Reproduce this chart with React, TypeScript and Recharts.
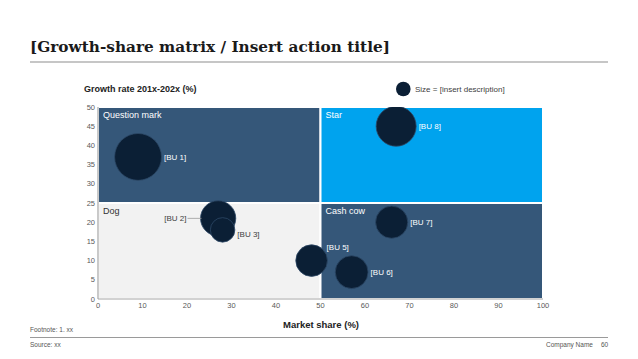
import React from "react";
import {
  ScatterChart,
  Scatter,
  XAxis,
  YAxis,
  ZAxis,
  ReferenceArea,
} from "recharts";

const units = ["[BU 1]", "[BU 2]", "[BU 3]", "[BU 5]", "[BU 6]", "[BU 7]", "[BU 8]"];
const marketShare = [9, 27, 28, 48, 57, 66, 67];
const growthRate = [37, 21, 18, 10, 7, 20, 45];
const bubbleWeight = [55, 31, 15, 25, 27, 26, 40];

const xTicks = [0, 10, 20, 30, 40, 50, 60, 70, 80, 90, 100];
const yTicks = [0, 5, 10, 15, 20, 25, 30, 35, 40, 45, 50];

const quadrantNames = ["Question mark", "Star", "Dog", "Cash cow"];
const shareSplit = 50;
const growthSplit = 25;

const NAVY = "#355779";
const QUADRANT_FILLS = [NAVY, "#00a3ee", "#f2f2f2", NAVY];
const BUBBLE = "#0b1f35";
const SANS = "'Liberation Sans', Arial, sans-serif";

// where each bubble's label sits relative to the bubble (default: right)
const LABEL_SIDE: Record<string, "left" | "above" | "below-right"> = {
  "[BU 2]": "left",
  "[BU 3]": "below-right",
  "[BU 5]": "above",
};

const bubbles = units.map((name, i) => ({
  name,
  share: marketShare[i],
  growth: growthRate[i],
  weight: bubbleWeight[i],
}));

const quadrants = quadrantNames.map((name, i) => ({
  name,
  x1: i % 2 === 0 ? 0 : shareSplit,
  x2: i % 2 === 0 ? shareSplit : 100,
  y1: i < 2 ? growthSplit : 0,
  y2: i < 2 ? 50 : growthSplit,
  fill: QUADRANT_FILLS[i],
}));

const Bubble = (props: any) => {
  const { cx, cy, payload } = props;
  const r = props.size ? Math.sqrt(props.size / Math.PI) : props.width / 2;
  const side = LABEL_SIDE[payload.name];
  // the "above" label reaches over into the cash cow box, so it stays white
  const onLight =
    payload.share < shareSplit && payload.growth < growthSplit && side !== "above";
  const color = onLight ? "#404040" : "#ffffff";

  let label;
  if (side === "left") {
    const end = cx - r - 14;
    label = (
      <g>
        <line x1={end + 1} y1={cy} x2={cx - r + 1} y2={cy} stroke="#9a9a9a" strokeWidth={0.8} />
        <text x={end} y={cy} dy="0.35em" textAnchor="end" fontSize={8} fill={color} fontFamily={SANS}>
          {payload.name}
        </text>
      </g>
    );
  } else if (side === "above") {
    label = (
      <text x={cx + 15} y={cy - 13.5} dy="0.35em" fontSize={8} fill={color} fontFamily={SANS}>
        {payload.name}
      </text>
    );
  } else {
    const dy = side === "below-right" ? 4 : 0;
    label = (
      <text x={cx + r + 2.5} y={cy + dy} dy="0.35em" fontSize={8} fill={color} fontFamily={SANS}>
        {payload.name}
      </text>
    );
  }

  return (
    <g>
      <circle cx={cx} cy={cy} r={r} fill={BUBBLE} stroke="#2c4866" strokeWidth={0.8} />
      {label}
    </g>
  );
};

const App = () => {
  return (
    <div style={{ position: "absolute", left: 0, top: 0, width: 638, height: 359, background: "#fff" }}>
      <ScatterChart width={638} height={359} margin={{ top: 107, right: 95, bottom: 40, left: 78 }}>
        {quadrants.map((q) => (
          <ReferenceArea
            key={q.name}
            x1={q.x1}
            x2={q.x2}
            y1={q.y1}
            y2={q.y2}
            fill={q.fill}
            fillOpacity={1}
            stroke="#ffffff"
            strokeWidth={2}
            label={{
              value: q.name,
              position: "insideTopLeft",
              offset: 5,
              fill: q.name === "Dog" ? "#333333" : "#ffffff",
              fontSize: 9,
              fontFamily: SANS,
            }}
          />
        ))}
        <XAxis
          type="number"
          dataKey="share"
          domain={[0, 100]}
          ticks={xTicks}
          height={20}
          tickSize={0}
          tickMargin={4}
          axisLine={{ stroke: "#a6a6a6", strokeWidth: 1.2 }}
          tick={{ fontSize: 7.5, fill: "#595959", fontFamily: SANS }}
          allowDataOverflow
        />
        <YAxis
          type="number"
          dataKey="growth"
          domain={[0, 50]}
          ticks={yTicks}
          width={20}
          tickSize={0}
          tickMargin={3}
          axisLine={{ stroke: "#a6a6a6", strokeWidth: 1.2 }}
          tick={{ fontSize: 7.5, fill: "#595959", fontFamily: SANS }}
          allowDataOverflow
        />
        <ZAxis type="number" dataKey="weight" domain={[0, 100]} range={[0, 1000 * Math.PI]} />
        <Scatter data={bubbles} shape={Bubble} isAnimationActive={false} />
      </ScatterChart>

      <svg
        width={638}
        height={359}
        style={{ position: "absolute", left: 0, top: 0, pointerEvents: "none" }}
      >
        <text x={30} y={52} fontFamily="'DejaVu Serif', Georgia, serif" fontWeight="bold" fontSize={15.3} fill="#1a1a1a">
          [Growth-share matrix / Insert action title]
        </text>
        <line x1={30} y1={62} x2={608} y2={62} stroke="#b3b3b3" strokeWidth={1.5} />

        <text x={84} y={92} fontFamily={SANS} fontWeight="bold" fontSize={9} fill="#222">
          Growth rate 201x-202x (%)
        </text>
        <circle cx={403.3} cy={89} r={7.3} fill={BUBBLE} />
        <text x={415} y={91.8} fontFamily={SANS} fontSize={8} fill="#404040">
          Size = [insert description]
        </text>

        <text x={321} y={327.5} textAnchor="middle" fontFamily={SANS} fontWeight="bold" fontSize={9.5} fill="#222">
          Market share (%)
        </text>

        <text x={30} y={331.5} fontFamily={SANS} fontSize={6.5} fill="#555">
          Footnote: 1. xx
        </text>
        <line x1={30} y1={337.5} x2={608} y2={337.5} stroke="#9a9a9a" strokeWidth={1} />
        <text x={30} y={347} fontFamily={SANS} fontSize={6.5} fill="#555">
          Source: xx
        </text>
        <text x={546} y={347} fontFamily={SANS} fontSize={6.5} fill="#555">
          Company Name
        </text>
        <text x={601} y={347} fontFamily={SANS} fontSize={6.5} fill="#555">
          60
        </text>
      </svg>
    </div>
  );
};

export default App;
